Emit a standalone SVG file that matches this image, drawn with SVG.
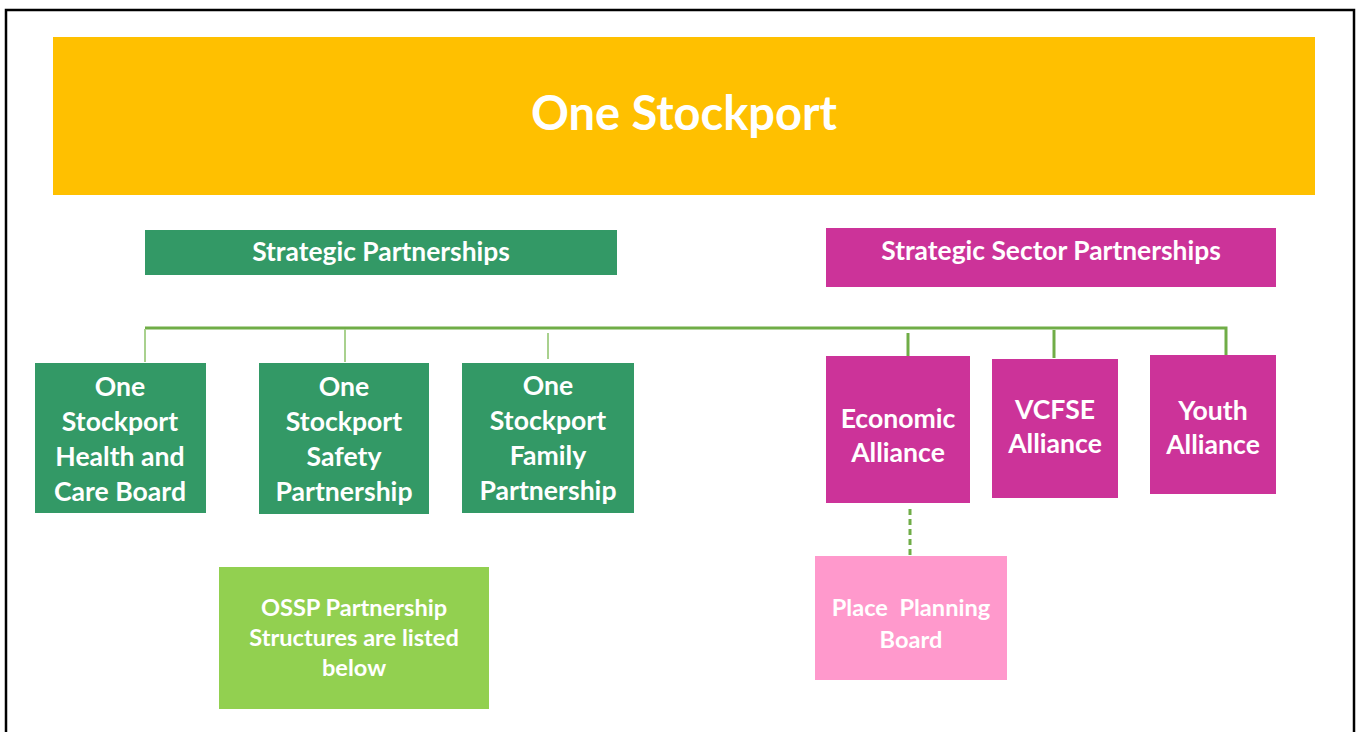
<svg xmlns="http://www.w3.org/2000/svg" width="1356" height="732" viewBox="0 0 1356 732">
  <style>
    text { font-family: Lato, "Open Sans", "Liberation Sans", sans-serif; font-weight: bold; fill: #ffffff; text-anchor: middle; }
    .title { font-size: 47px; }
    .hdr { font-size: 26.4px; }
    .box { font-size: 26.6px; }
    .small { font-size: 23.6px; }
    .green { fill: #339966; }
    .magenta { fill: #CC3399; }
    .link { stroke: #70AD47; stroke-width: 3; fill: none; }
    .drop { stroke: #A9D18E; stroke-width: 2; fill: none; }
  </style>

  <rect x="0" y="0" width="1356" height="732" fill="#ffffff"/>
  <!-- page frame -->
  <rect x="6" y="10" width="1348" height="740" fill="none" stroke="#000000" stroke-width="2.5"/>

  <g id="one-stockport">
    <rect x="53" y="37" width="1262" height="158" fill="#FFC000"/>
    <text class="title" x="684" y="130">One Stockport</text>
  </g>

  <g id="strategic-partnerships">
    <rect class="green" x="145" y="230" width="472" height="45"/>
    <text class="hdr" x="381" y="261">Strategic Partnerships</text>
  </g>

  <g id="strategic-sector-partnerships">
    <rect class="magenta" x="826" y="228" width="450" height="59"/>
    <text class="hdr" x="1051" y="260">Strategic Sector Partnerships</text>
  </g>

  <g id="connectors">
    <path class="link" d="M145 328 H1226 V355"/>
    <path class="drop" d="M145 329 V362"/>
    <path class="drop" d="M345 329 V362"/>
    <path class="drop" d="M548 333 V359"/>
    <path class="link" d="M908 333 V356"/>
    <path class="link" d="M1054 330 V358"/>
    <path class="link" d="M910 509 V555" stroke-dasharray="6 4"/>
  </g>

  <g id="health-care-board">
    <rect class="green" x="35" y="363" width="171" height="150"/>
    <text class="box" x="120" y="396">One</text>
    <text class="box" x="120" y="431">Stockport</text>
    <text class="box" x="120" y="466">Health and</text>
    <text class="box" x="120" y="501">Care Board</text>
  </g>

  <g id="safety-partnership">
    <rect class="green" x="259" y="363" width="170" height="151"/>
    <text class="box" x="344" y="396">One</text>
    <text class="box" x="344" y="431">Stockport</text>
    <text class="box" x="344" y="466">Safety</text>
    <text class="box" x="344" y="501">Partnership</text>
  </g>

  <g id="family-partnership">
    <rect class="green" x="462" y="363" width="172" height="150"/>
    <text class="box" x="548" y="395">One</text>
    <text class="box" x="548" y="430">Stockport</text>
    <text class="box" x="548" y="465">Family</text>
    <text class="box" x="548" y="500">Partnership</text>
  </g>

  <g id="economic-alliance">
    <rect class="magenta" x="826" y="356" width="144" height="147"/>
    <text class="box" x="898" y="428">Economic</text>
    <text class="box" x="898" y="462">Alliance</text>
  </g>

  <g id="vcfse-alliance">
    <rect class="magenta" x="992" y="359" width="126" height="139"/>
    <text class="box" x="1055" y="419">VCFSE</text>
    <text class="box" x="1055" y="453">Alliance</text>
  </g>

  <g id="youth-alliance">
    <rect class="magenta" x="1150" y="355" width="126" height="139"/>
    <text class="box" x="1213" y="420">Youth</text>
    <text class="box" x="1213" y="454">Alliance</text>
  </g>

  <g id="place-planning-board">
    <rect x="815" y="556" width="192" height="124" fill="#FF99CC"/>
    <text class="small" x="911" y="616" xml:space="preserve">Place  Planning</text>
    <text class="small" x="911" y="648">Board</text>
  </g>

  <g id="ossp-structures">
    <rect x="219" y="567" width="270" height="142" fill="#92D050"/>
    <text class="small" x="354" y="616">OSSP Partnership</text>
    <text class="small" x="354" y="646">Structures are listed</text>
    <text class="small" x="354" y="676">below</text>
  </g>
</svg>
